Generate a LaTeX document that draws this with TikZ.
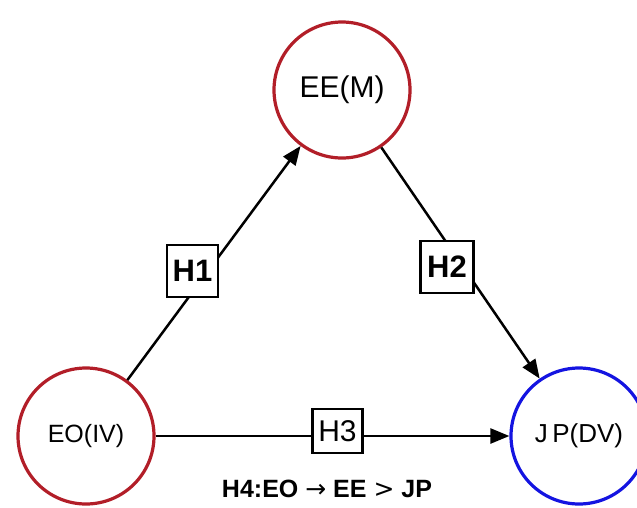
\documentclass[tikz,border=0pt]{standalone}
\usepackage{fontspec}
\setmainfont{Liberation Sans}
\newfontfamily\symf{DejaVu Sans}
\usetikzlibrary{arrows.meta}
\definecolor{cred}{RGB}{178,30,40}
\definecolor{cblue}{RGB}{20,20,225}
\begin{document}
\begin{tikzpicture}[x=1pt,y=-1pt,
  var/.style={circle,draw,line width=3.2pt,minimum size=136pt,inner sep=0pt,fill=white},
  hbox/.style={draw,line width=2.4pt,fill=white,inner sep=0pt,minimum width=51pt,minimum height=52pt},
  arr/.style={line width=2.5pt,-{Triangle[length=19pt,width=15pt]}}]
\useasboundingbox (0,0) rectangle (637,507);
\node[var,draw=cred] (ee) at (342,90) {\fontsize{30}{34}\selectfont EE(M)};
\node[var,draw=cred] (eo) at (86,436) {\fontsize{25}{29}\selectfont EO(IV)};
\node[var,draw=cblue] (jp) at (579,436) {\fontsize{26}{30}\selectfont J\,P(DV)};
\draw[arr] (eo) -- (ee);
\draw[arr] (ee) -- (jp);
\draw[arr] (eo.east) -- (jp.west);
\node[hbox] (h1) at (192.5,271) {\fontsize{31}{35}\selectfont\bfseries H1};
\node[hbox,minimum width=53pt] (h2) at (447,267) {\fontsize{31}{35}\selectfont\bfseries H2};
\node[hbox,minimum width=50pt,minimum height=44pt] (h3) at (337.5,431) {\fontsize{30}{34}\selectfont H3};
\node (h4) at (327,489) {\fontsize{25}{29}\selectfont\bfseries H4:EO {\symf\mdseries →} EE {\symf\mdseries >} JP};
\end{tikzpicture}
\end{document}
